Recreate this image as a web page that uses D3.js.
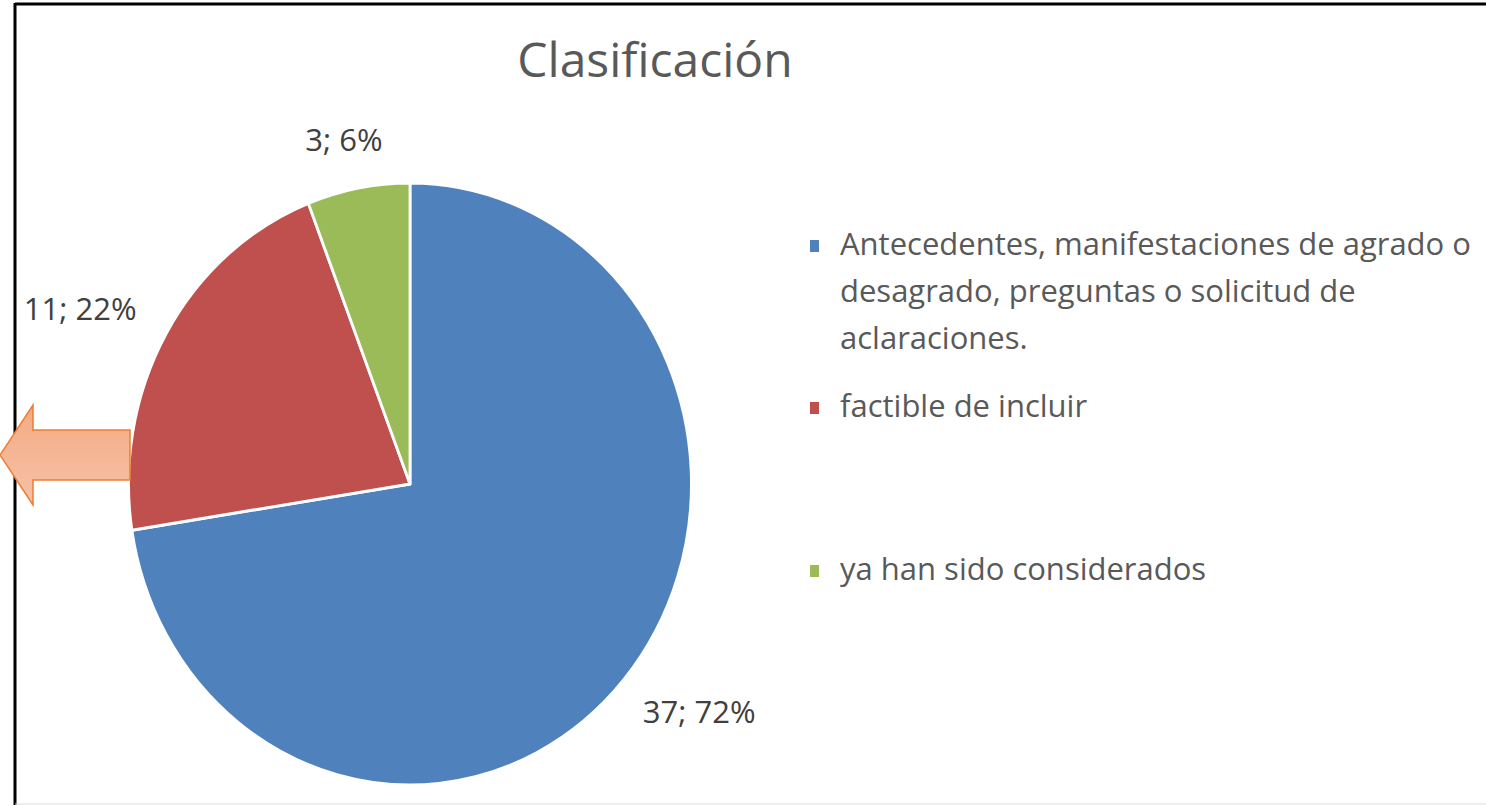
<!DOCTYPE html>
<html>
<head>
<meta charset="utf-8">
<script src="https://d3js.org/d3.v7.min.js"></script>
<style>
  body { margin: 0; background: #fff; }
  text { font-family: "Open Sans", sans-serif; }
</style>
</head>
<body>
<svg width="1486" height="805" class="pie-chart"></svg>
<script>
  // data
  const categories = [
    "Antecedentes, manifestaciones de agrado o desagrado, preguntas o solicitud de aclaraciones.",
    "factible de incluir",
    "ya han sido considerados"
  ];
  const counts = [37, 11, 3];
  const percents = [72, 22, 6];
  const legendLines = [
    ["Antecedentes, manifestaciones de agrado o", "desagrado, preguntas o solicitud de", "aclaraciones."],
    ["factible de incluir"],
    ["ya han sido considerados"]
  ];
  const colors = ["#4f81bd", "#c0504d", "#9bbb59"];

  const svg = d3.select(".pie-chart");

  // frame
  svg.append("line").attr("x1", 15).attr("y1", 4).attr("x2", 1486).attr("y2", 4)
    .attr("stroke", "#000").attr("stroke-width", 3);
  svg.append("line").attr("x1", 15).attr("y1", 3).attr("x2", 15).attr("y2", 805)
    .attr("stroke", "#000").attr("stroke-width", 3);
  svg.append("line").attr("x1", 15).attr("y1", 804).attr("x2", 1486).attr("y2", 804)
    .attr("stroke", "#ddd").attr("stroke-width", 1);

  // title
  svg.append("text")
    .attr("x", 655).attr("y", 77)
    .attr("text-anchor", "middle")
    .style("font-size", "48px")
    .style("fill", "#595959")
    .text("Clasificación");

  const data = categories.map((c, i) => ({cat: c, n: counts[i], pct: percents[i], color: colors[i]}));

  const cx = 410, cy = 484, r = 301, sx = 0.935;

  const pie = d3.pie().sort(null).value(d => d.n);
  const arc = d3.arc().innerRadius(0).outerRadius(r);
  const arcs = pie(data);

  const pieg = svg.append("g")
    .attr("transform", "translate(" + cx + "," + cy + ") scale(" + sx + ",1)");

  pieg.selectAll(".slice")
    .data(arcs)
    .enter().append("path")
    .attr("class", "slice")
    .attr("d", arc)
    .style("fill", d => d.data.color)
    .style("stroke", "#fff")
    .style("stroke-width", 3)
    .style("stroke-linejoin", "round");

  // data labels, outside end: text box pushed out along the mid angle
  const gap = 34;
  svg.selectAll(".slice-label")
    .data(arcs)
    .enter().append("text")
    .attr("class", "slice-label")
    .attr("text-anchor", "middle")
    .style("font-size", "31px")
    .style("fill", "#404040")
    .text(d => d.data.n + "; " + d.data.pct + "%")
    .each(function(d) {
      const a = (d.startAngle + d.endAngle) / 2;
      const w = this.getComputedTextLength();
      const h = 30;
      const x = cx + Math.sin(a) * (r + gap) * sx + Math.sin(a) * w * 0.6;
      const y = cy - Math.cos(a) * (r + gap) - Math.cos(a) * h / 2;
      d3.select(this).attr("x", x).attr("y", y + 11);
    });

  // legend
  const legendY = [255, 417, 580];
  const lineH = 47;
  const leg = svg.selectAll(".legend-item")
    .data(data)
    .enter().append("g")
    .attr("class", "legend-item")
    .attr("transform", (d, i) => "translate(810," + legendY[i] + ")");

  leg.append("rect")
    .attr("x", 0).attr("y", -15)
    .attr("width", 9).attr("height", 12)
    .style("fill", d => d.color);

  leg.append("text")
    .style("font-size", "31px")
    .style("fill", "#595959")
    .selectAll("tspan")
    .data((d, i) => legendLines[i])
    .enter().append("tspan")
    .attr("x", 30)
    .attr("dy", (d, j) => j === 0 ? 0 : lineH)
    .text(d => d);

  // orange arrow pointing left
  const defs = svg.append("defs");
  const grad = defs.append("linearGradient").attr("id", "arrowGrad")
    .attr("x1", 0).attr("y1", 0).attr("x2", 0).attr("y2", 1);
  grad.append("stop").attr("offset", "0%").attr("stop-color", "#f4aa84");
  grad.append("stop").attr("offset", "100%").attr("stop-color", "#f6c2a6");

  svg.append("path")
    .attr("d", "M0,455 L33,405 L33,430 L130,430 L130,480 L33,480 L33,505 Z")
    .style("fill", "url(#arrowGrad)")
    .style("stroke", "#ed7d31")
    .style("stroke-width", 1.5);
</script>
</body>
</html>
